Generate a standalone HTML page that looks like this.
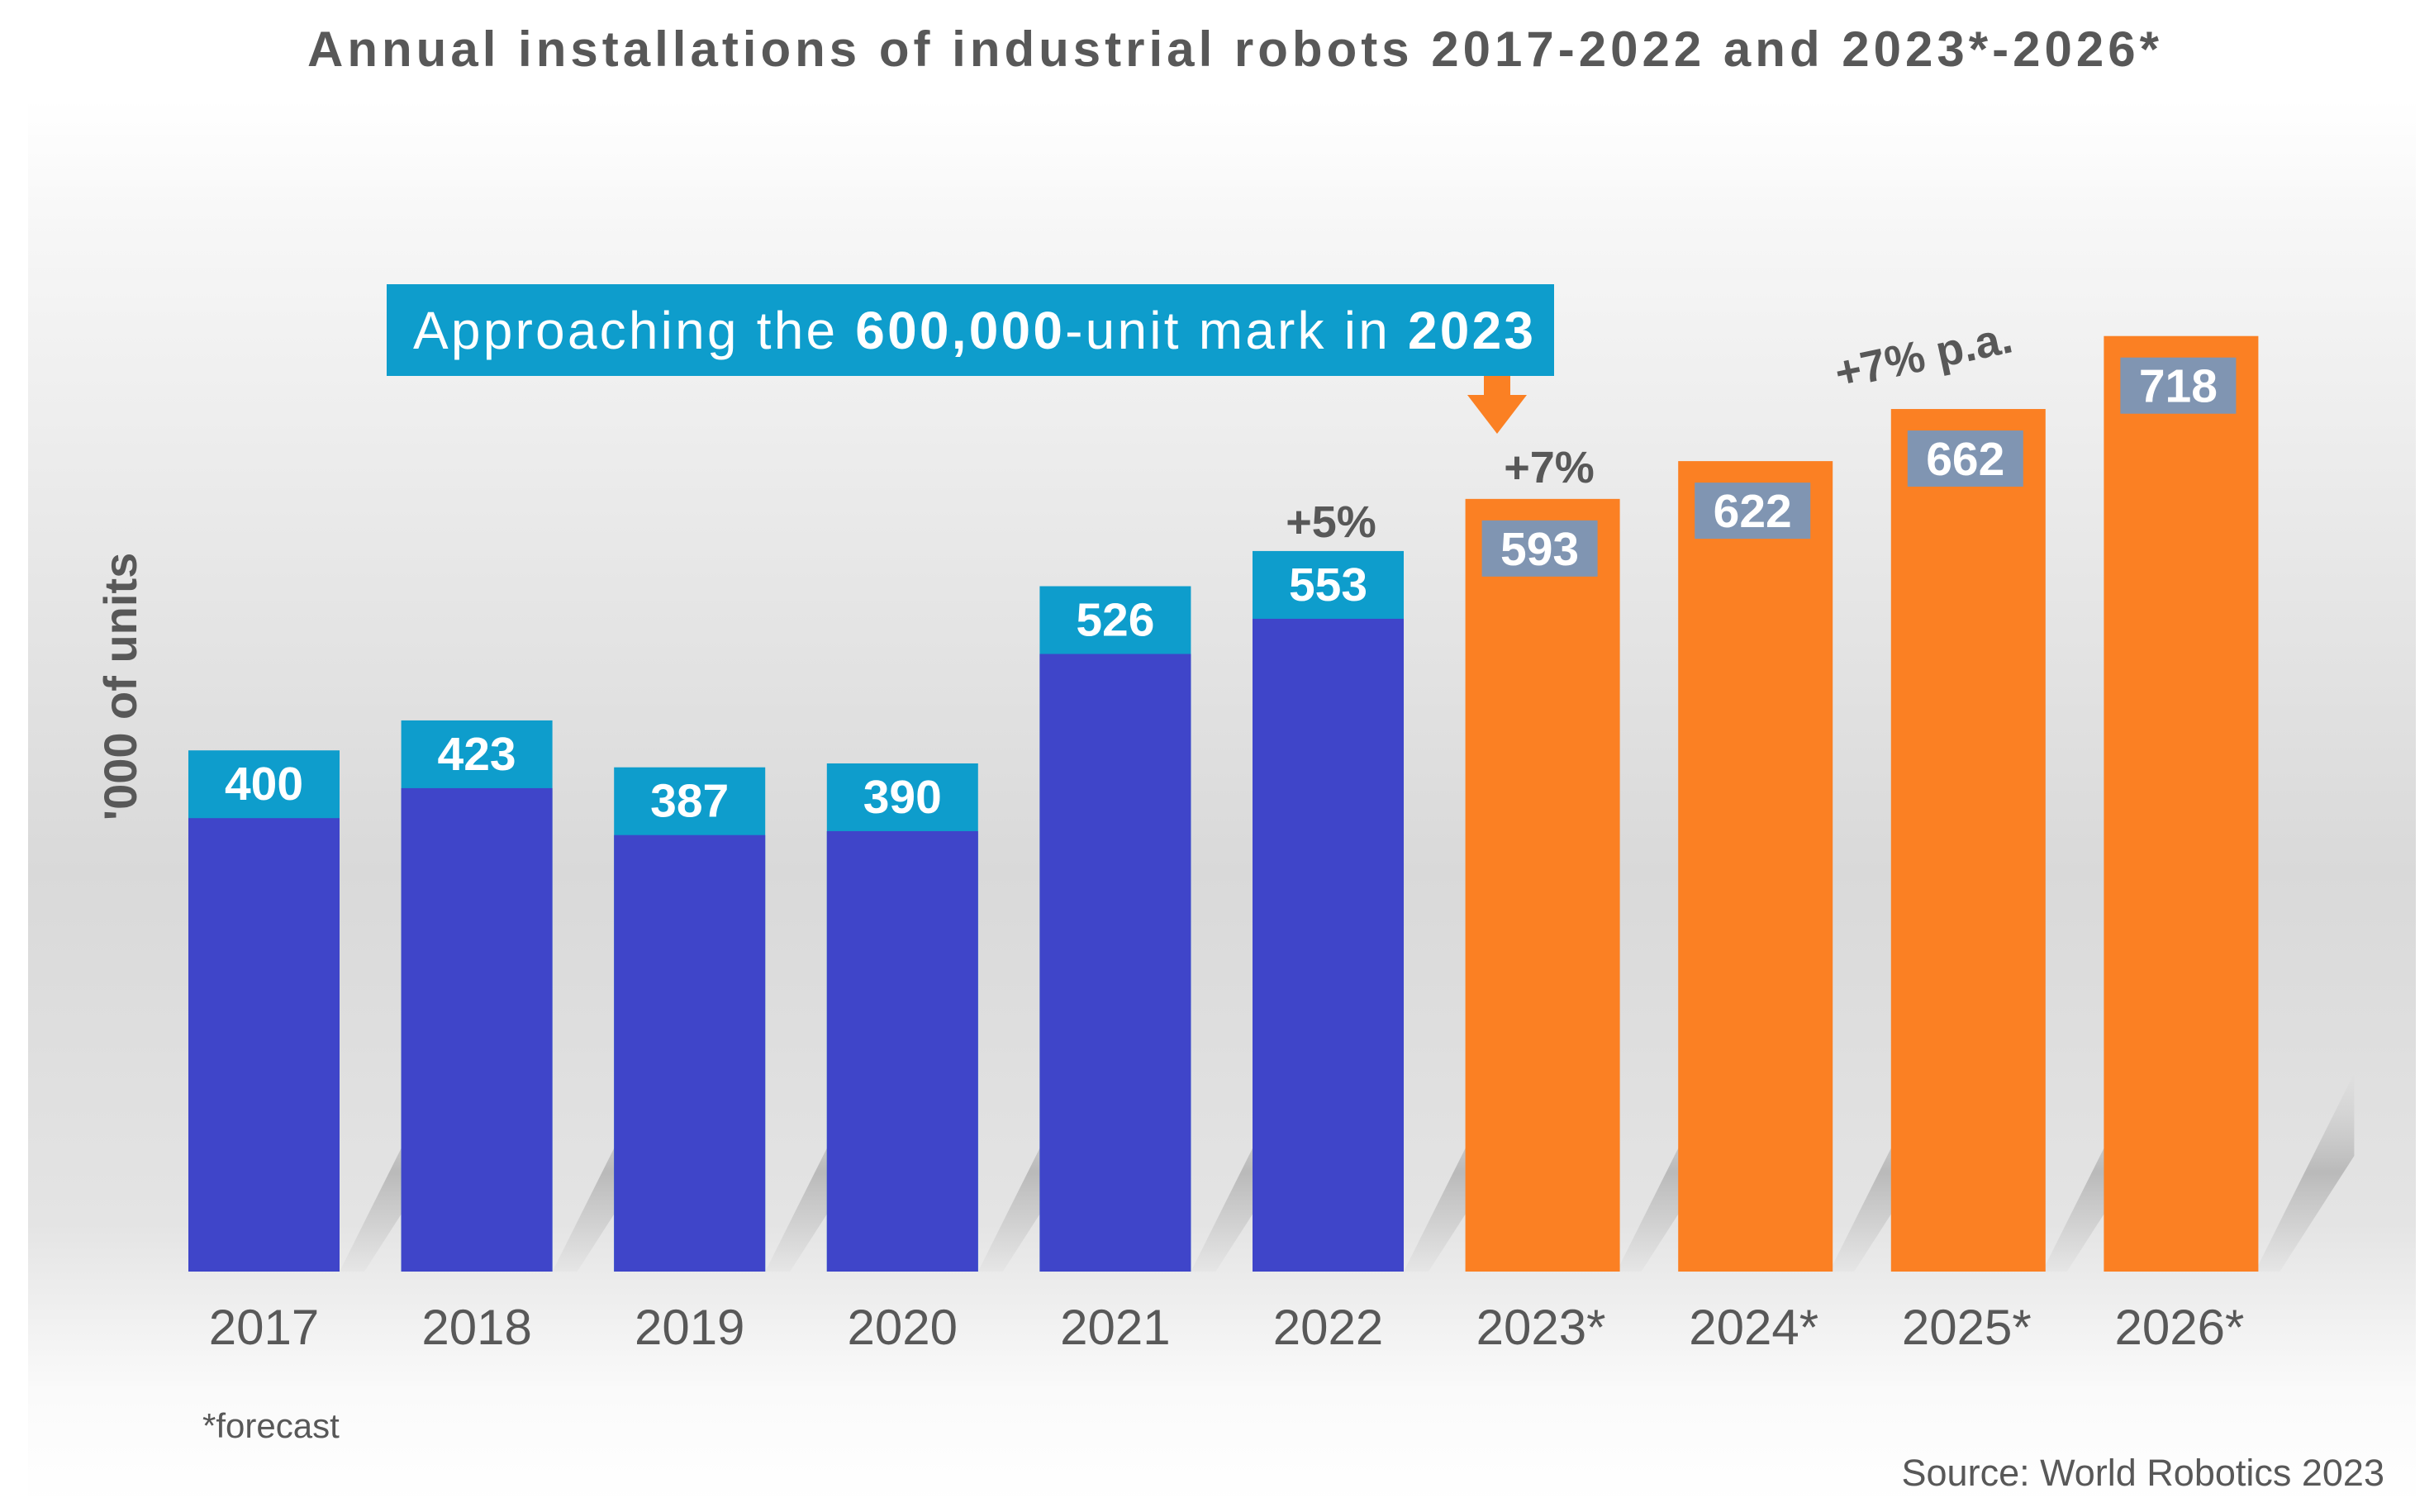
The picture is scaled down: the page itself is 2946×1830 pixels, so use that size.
<!DOCTYPE html>
<html><head><meta charset="utf-8">
<style>
html,body{margin:0;padding:0;background:#fff;}
body{width:2946px;height:1825px;overflow:hidden;font-family:"Liberation Sans",Arial,sans-serif;}
</style></head>
<body>
<svg width="2946" height="1825" viewBox="0 0 2946 1825" xmlns="http://www.w3.org/2000/svg">
<defs>
<linearGradient id="bg" x1="0" y1="0" x2="0" y2="1">
<stop offset="0" stop-color="#ffffff"/>
<stop offset="0.1" stop-color="#f6f6f6"/>
<stop offset="0.55" stop-color="#d9d9d9"/>
<stop offset="0.8" stop-color="#e4e4e4"/>
<stop offset="0.92" stop-color="#fafafa"/>
<stop offset="1" stop-color="#ffffff"/>
</linearGradient>
<linearGradient id="sh" x1="0" y1="0" x2="0" y2="1">
<stop offset="0" stop-color="#bdbdbd" stop-opacity="0"/>
<stop offset="0.5" stop-color="#a8a8a8" stop-opacity="0.7"/>
<stop offset="1" stop-color="#bdbdbd" stop-opacity="0.1"/>
</linearGradient>
</defs>
<rect x="34" y="120" width="2890" height="1700" fill="url(#bg)"/>
<text x="372" y="80" textLength="2241" lengthAdjust="spacing" font-size="60" font-weight="bold" fill="#585858">Annual installations of industrial robots 2017-2022 and 2023*-2026*</text>
<text transform="translate(165,831) rotate(-90)" text-anchor="middle" font-size="56" font-weight="bold" fill="#585858">'000 of units</text>
<g id="shadows"></g>
<g id="bars"></g>
<g id="labels"></g>
<rect x="468" y="344" width="1413" height="111" fill="#0e9dcc"/>
<text x="500" y="422" textLength="1356" lengthAdjust="spacing" font-size="64" fill="#fff">Approaching the <tspan font-weight="bold">600,000</tspan>-unit mark in <tspan font-weight="bold">2023</tspan></text>
<polygon points="1796,455 1828,455 1828,478 1848,478 1812,525 1776,478 1796,478" fill="#fb8023"/>
<text x="1611" y="650" text-anchor="middle" font-size="54" font-weight="bold" fill="#585858">+5%</text>
<text x="1875" y="584" text-anchor="middle" font-size="54" font-weight="bold" fill="#585858">+7%</text>
<text transform="translate(2332,448) rotate(-12)" text-anchor="middle" font-size="54" font-weight="bold" fill="#585858">+7% p.a.</text>
<text x="245" y="1740" font-size="42" fill="#585858">*forecast</text>
<text x="2886" y="1798" text-anchor="end" font-size="45" fill="#585858">Source: World Robotics 2023</text>
</svg>
<script>
const categories = ["2017","2018","2019","2020","2021","2022","2023*","2024*","2025*","2026*"];
const values = [400,423,387,390,526,553,593,622,662,718];
const forecast = [false,false,false,false,false,false,true,true,true,true];

const NS = "http://www.w3.org/2000/svg";
const baseY = 1539, pxPerUnit = 1.577, x0 = 228, step = 257.6, barW = 183;
function xPos(i){ return x0 + i*step; }
function yPos(v){ return baseY - v*pxPerUnit; }
function mk(tag, attrs, parent){ const e=document.createElementNS(NS,tag); for(const k in attrs) e.setAttribute(k,attrs[k]); parent.appendChild(e); return e; }
const gs=document.getElementById('shadows'), gb=document.getElementById('bars'), gl=document.getElementById('labels');
categories.forEach((c,i)=>{
  const x=xPos(i), y=yPos(values[i]), h=baseY-y;
  const s=mk('polygon',{points:`${x+barW},${baseY} ${x+barW+120},${baseY-240} ${x+barW+120},${baseY-140} ${x+barW+30},${baseY}`,fill:'url(#sh)'},gs);
  
  
  if(!forecast[i]){
    const top=mk('rect',{x:x,y:y,width:barW,height:h,fill:'#0e9dcc'},gb);
    
    
    const r=mk('rect',{x:x,y:y+82,width:barW,height:h-82,fill:'#3f45c9'},gb);
    
    
    const t=mk('text',{x:x+barW/2,y:y+60,'text-anchor':'middle','font-size':57,'font-weight':'bold',fill:'#fff'},gl);
    t.textContent=values[i];
    
    
  } else {
    const r=mk('rect',{x:x,y:y,width:barW+4,height:h,fill:'#fb8023'},gb);
    
    
    const b=mk('rect',{x:x+20,y:y+26,width:140,height:68,fill:'#8095b2'},gb);
    
    
    const t=mk('text',{x:x+90,y:y+80,'text-anchor':'middle','font-size':57,'font-weight':'bold',fill:'#fff'},gl);
    t.textContent=values[i];
    
    
  }
  const xl=mk('text',{x:x+barW/2,y:1627,'text-anchor':'middle','font-size':60,fill:'#585858'},gl);
  xl.textContent=c;
  
  
});
</script>
</body></html>
